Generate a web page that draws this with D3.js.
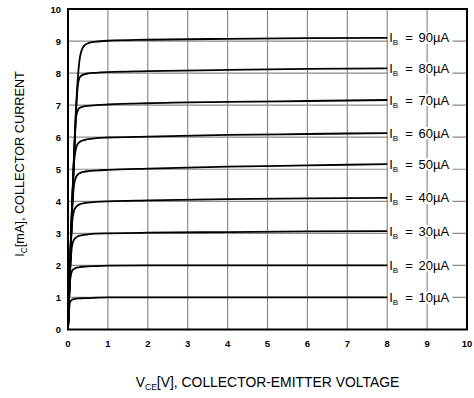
<!DOCTYPE html>
<html>
<head>
<meta charset="utf-8">
<script src="https://cdn.jsdelivr.net/npm/d3@7"></script>
<style>
  html, body { margin: 0; padding: 0; background: #fff; }
  svg { display: block; font-family: "Liberation Sans", Arial, sans-serif; }
</style>
</head>
<body>
<svg id="chart" width="474" height="398"></svg>
<script>
// Collector-emitter voltage samples (V) shared by every output curve
const vce = [0, 0.05, 0.1, 0.15, 0.2, 0.25, 0.3, 0.4, 0.5, 0.7, 1, 2, 4, 6, 8];

// Collector current (mA) for each base current step
const ib10 = [0, 0.85, 0.93, 0.95, 0.96, 0.97, 0.97, 0.98, 0.98, 0.99, 1.0, 1.0, 1.0, 1.0, 1.0];
const ib20 = [0, 1.5, 1.82, 1.89, 1.92, 1.94, 1.95, 1.96, 1.97, 1.98, 1.99, 2.0, 2.0, 2.0, 2.0];
const ib30 = [0, 1.7, 2.6, 2.8, 2.87, 2.91, 2.93, 2.95, 2.97, 2.99, 3.0, 3.02, 3.04, 3.06, 3.07];
const ib40 = [0, 1.8, 3.3, 3.7, 3.82, 3.88, 3.91, 3.94, 3.96, 3.98, 4.0, 4.03, 4.07, 4.09, 4.11];
const ib50 = [0, 1.85, 3.6, 4.5, 4.75, 4.84, 4.88, 4.92, 4.94, 4.96, 4.98, 5.02, 5.08, 5.12, 5.16];
const ib60 = [0, 1.9, 3.7, 5.2, 5.65, 5.8, 5.86, 5.91, 5.94, 5.97, 5.99, 6.02, 6.07, 6.1, 6.13];
const ib70 = [0, 1.95, 3.75, 5.3, 6.6, 6.85, 6.92, 6.96, 6.98, 7.0, 7.02, 7.06, 7.1, 7.13, 7.16];
const ib80 = [0, 2.0, 3.8, 5.35, 6.8, 7.65, 7.88, 7.96, 7.99, 8.01, 8.03, 8.06, 8.1, 8.13, 8.15];
const ib90 = [0, 2.0, 3.85, 5.4, 6.85, 7.9, 8.5, 8.85, 8.93, 8.98, 9.01, 9.04, 9.07, 9.09, 9.1];

// Base current labels (µA) in the same order as the series
const ibLabels = ["10", "20", "30", "40", "50", "60", "70", "80", "90"];
const series = [ib10, ib20, ib30, ib40, ib50, ib60, ib70, ib80, ib90];

// Axis ticks
const xTicks = [0, 1, 2, 3, 4, 5, 6, 7, 8, 9, 10];
const yTicks = [0, 1, 2, 3, 4, 5, 6, 7, 8, 9, 10];

const svg = d3.select("#chart");
const plot = { left: 68, right: 467, top: 9, bottom: 329.5 };

const x = d3.scaleLinear().domain([0, 10]).range([plot.left, plot.right]);
const y = d3.scaleLinear().domain([0, 10]).range([plot.bottom, plot.top]);

// Grid
const grid = svg.append("g").attr("stroke", "#8c8c8c").attr("stroke-width", 1.2);
grid.selectAll("line.v").data(xTicks.slice(1, -1)).join("line")
  .attr("x1", d => x(d)).attr("x2", d => x(d))
  .attr("y1", plot.top).attr("y2", plot.bottom);
grid.selectAll("line.h").data(yTicks.slice(1, -1)).join("line")
  .attr("x1", plot.left).attr("x2", plot.right)
  .attr("y1", d => y(d)).attr("y2", d => y(d));

// Output curves
const line = d3.line()
  .x((d, i) => x(vce[i]))
  .y(d => y(d))
  .curve(d3.curveMonotoneX);

svg.append("g").selectAll("path").data(series).join("path")
  .attr("d", d => line(d))
  .attr("fill", "none")
  .attr("stroke", "#000")
  .attr("stroke-width", 1.8)
  .attr("stroke-linejoin", "round");

// Curve labels with white backing
const labels = svg.append("g");
series.forEach((s, k) => {
  const g = labels.append("g");
  const yy = y(s[s.length - 1]);
  const t = g.append("text")
    .attr("x", x(vce[vce.length - 1]) + 2)
    .attr("y", yy + 4.5)
    .attr("font-size", 13)
    .attr("fill", "#000");
  t.append("tspan").text("I");
  t.append("tspan").attr("font-size", 8).attr("dy", 3).text("B");
  t.append("tspan").attr("dy", -3).attr("dx", 7).text("=");
  t.append("tspan").attr("dx", 5.7).text(ibLabels[k] + "µA");
  const bb = t.node().getBBox();
  g.insert("rect", "text")
    .attr("x", bb.x - 1).attr("y", yy - 6)
    .attr("width", bb.width + 4).attr("height", 12)
    .attr("fill", "#fff");
});

// Frame
svg.append("rect")
  .attr("x", plot.left).attr("y", plot.top)
  .attr("width", plot.right - plot.left).attr("height", plot.bottom - plot.top)
  .attr("fill", "none").attr("stroke", "#000").attr("stroke-width", 2);

// Tick labels
svg.append("g").selectAll("text").data(xTicks).join("text")
  .attr("x", d => x(d)).attr("y", 347)
  .attr("text-anchor", "middle")
  .attr("font-size", 9.5).attr("font-weight", "bold")
  .text(d => d);

svg.append("g").selectAll("text").data(yTicks).join("text")
  .attr("x", 61).attr("y", d => y(d) + 3.5)
  .attr("text-anchor", "end")
  .attr("font-size", 9.5).attr("font-weight", "bold")
  .text(d => d);

// Axis titles
const xt = svg.append("text")
  .attr("x", x(5)).attr("y", 387)
  .attr("text-anchor", "middle")
  .attr("font-size", 13.9);
xt.append("tspan").text("V");
xt.append("tspan").attr("font-size", 8.5).attr("dy", 3).text("CE");
xt.append("tspan").attr("dy", -3).text("[V], COLLECTOR-EMITTER VOLTAGE");

const yt = svg.append("text")
  .attr("transform", "translate(24,164) rotate(-90)")
  .attr("text-anchor", "middle")
  .attr("font-size", 12.7);
yt.append("tspan").text("I");
yt.append("tspan").attr("font-size", 8.5).attr("dy", 3).text("C");
yt.append("tspan").attr("dy", -3).text("[mA], COLLECTOR CURRENT");
</script>
</body>
</html>
